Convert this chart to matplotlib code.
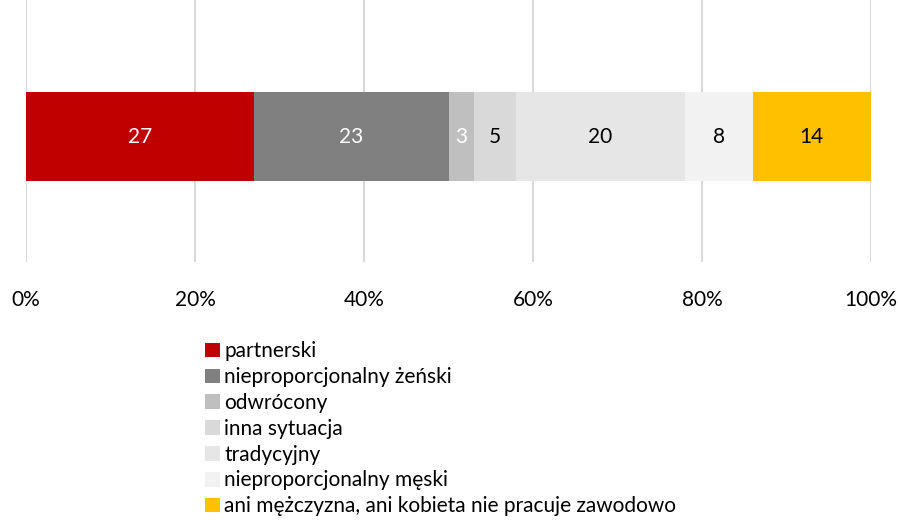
import matplotlib.pyplot as plt

categories = ["partnerski", "nieproporcjonalny żeński", "odwrócony", "inna sytuacja",
              "tradycyjny", "nieproporcjonalny męski",
              "ani mężczyzna, ani kobieta nie pracuje zawodowo"]
values = [27, 23, 3, 5, 20, 8, 14]
colors = ["#C00000", "#808080", "#BFBFBF", "#D9D9D9", "#E6E6E6", "#F2F2F2", "#FFC000"]
label_colors = ["white", "white", "white", "black", "black", "black", "black"]
ticks = [0, 20, 40, 60, 80, 100]
tick_labels = ["0%", "20%", "40%", "60%", "80%", "100%"]

plt.rcParams['font.family'] = ['Lato', 'DejaVu Sans']
fs = 15

fig = plt.figure(figsize=(8.98, 5.2), dpi=100)
ax = fig.add_axes([26 / 898, 1 - 262 / 520, 845 / 898, 262 / 520])

left = 0
handles = []
for cat, val, col, lc in zip(categories, values, colors, label_colors):
    b = ax.barh(0, val, left=left, height=0.68, color=col, label=cat, zorder=3)
    ax.text(left + val / 2, 0, str(val), ha='center', va='center',
            color=lc, fontsize=fs, zorder=4)
    handles.append(b)
    left += val

ax.set_xlim(0, 100)
ax.set_ylim(-0.958, 1.042)
ax.set_xticks(ticks)
ax.set_xticklabels(tick_labels, fontsize=fs)
ax.set_yticks([])
ax.tick_params(axis='x', length=0, pad=20)
ax.grid(axis='x', color='#D9D9D9', linewidth=1.5, zorder=0)
for s in ax.spines.values():
    s.set_visible(False)

leg = fig.legend(handles=handles, labels=categories, loc='upper left',
                 bbox_to_anchor=(197 / 898, 1 - 333 / 520), frameon=False,
                 fontsize=fs, handlelength=0.7, handleheight=0.7,
                 handletextpad=0.2, labelspacing=0.28, borderaxespad=0)

fig.savefig("out.png", dpi=100)
